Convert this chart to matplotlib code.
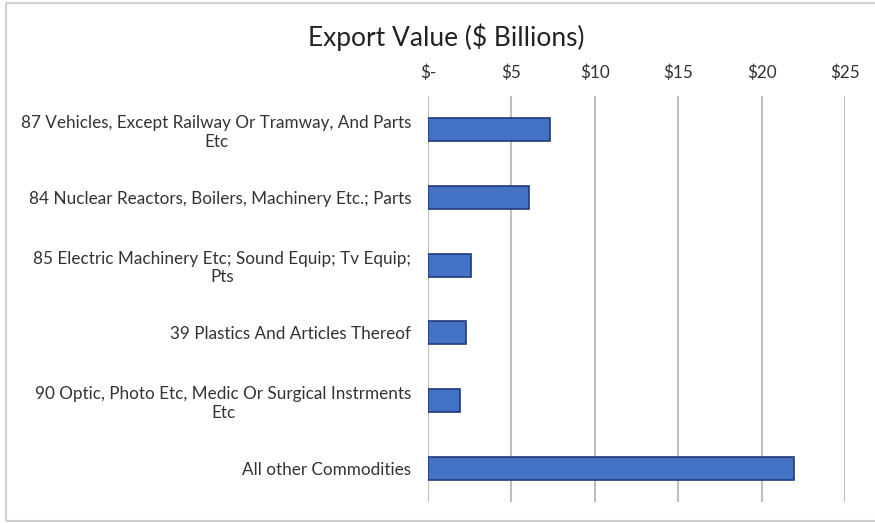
import matplotlib
matplotlib.use("Agg")
import matplotlib.pyplot as plt
from matplotlib.patches import Rectangle

categories = [
    "87 Vehicles, Except Railway Or Tramway, And Parts\nEtc",
    "84 Nuclear Reactors, Boilers, Machinery Etc.; Parts",
    "85 Electric Machinery Etc; Sound Equip; Tv Equip;\nPts",
    "39 Plastics And Articles Thereof",
    "90 Optic, Photo Etc, Medic Or Surgical Instrments\nEtc",
    "All other Commodities",
]
values = [7.3, 6.05, 2.55, 2.28, 1.9, 21.95]
tick_values = [0, 5, 10, 15, 20, 25]
tick_labels = ["$-", "$5", "$10", "$15", "$20", "$25"]
title = "Export Value ($ Billions)"

plt.rcParams["font.family"] = ["Lato", "DejaVu Sans"]

fig = plt.figure(figsize=(8.75, 5.23), dpi=100)
ax = fig.add_axes([428/875, 1-502/523, (845-428)/875, (502-96)/523])

ypos = list(range(len(categories)))
ax.barh(ypos, values, height=0.34, color="#4472c4", edgecolor="#1f3a7a", linewidth=1.2, zorder=3)
ax.set_ylim(len(categories)-0.5, -0.5)
ax.set_xlim(0, 25)
ax.set_yticks(ypos)
ax.set_yticklabels(categories, fontsize=12.3, color="#333333", multialignment="center")
ax.set_xticks(tick_values)
ax.set_xticklabels(tick_labels, fontsize=12.3, color="#333333")
ax.xaxis.tick_top()
ax.tick_params(axis="both", length=0)
ax.tick_params(axis="x", pad=11)
ax.tick_params(axis="y", pad=12)
for s in ax.spines.values():
    s.set_visible(False)
ax.grid(axis="x", color="#bfbfbf", linewidth=1.5, zorder=0)
ax.grid(axis="y", visible=False)

fig.text(446/875, 1-37/523, title, ha="center", va="center", fontsize=19, color="#222222")
fig.patches.append(Rectangle((6/875, 2/523), 1.0, 1-5/523, transform=fig.transFigure,
                             fill=False, edgecolor="#d0d0d0", linewidth=1.5))

fig.savefig("out.png", dpi=100)
